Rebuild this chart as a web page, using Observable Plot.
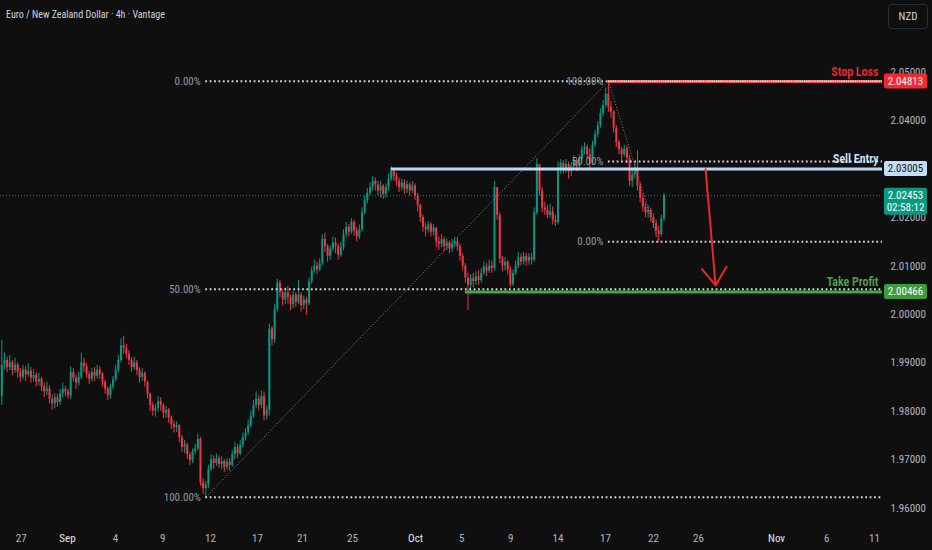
<!DOCTYPE html>
<html><head><meta charset="utf-8">
<script src="https://cdn.jsdelivr.net/npm/d3@7"></script>
<script src="https://cdn.jsdelivr.net/npm/@observablehq/plot@0.6"></script>
<style>
html,body{margin:0;padding:0;background:#0f0f0f;}
body{width:932px;height:550px;overflow:hidden;font-family:"Liberation Sans Narrow","Roboto Condensed","Liberation Sans",Roboto,sans-serif;}
#header{position:relative;height:30px;}
#title{position:absolute;left:6px;top:9px;font-size:10px;color:#d1d4dc;white-space:nowrap;}
#cur{position:absolute;left:888px;top:4px;width:38px;height:23px;border:1px solid #2a2e39;border-radius:4px;color:#d1d4dc;font-size:11px;line-height:23px;text-align:center;}
svg{display:block;}
</style></head>
<body>
<div id="header"><div id="title">Euro / New Zealand Dollar · 4h · Vantage</div><div id="cur">NZD</div></div>
<div id="chart"></div>
<script>
// ---------- DATA ----------
const firstOpen = 1.9830;
const closes = [
1.9895,1.9905,1.9890,1.9900,1.9884,1.9895,1.9880,1.9870,1.9885,1.9875,
1.9882,1.9868,1.9874,1.9860,1.9866,1.9850,1.9840,1.9846,1.9825,1.9815,
1.9828,1.9818,1.9836,1.9845,1.9840,1.9832,1.9880,1.9868,1.9858,1.9870,
1.9900,1.9892,1.9876,1.9866,1.9880,1.9872,1.9885,1.9876,1.9860,1.9845,
1.9832,1.9850,1.9865,1.9885,1.9905,1.9935,1.9930,1.9918,1.9905,1.9890,
1.9900,1.9884,1.9870,1.9878,1.9860,1.9835,1.9812,1.9800,1.9806,1.9820,
1.9812,1.9796,1.9802,1.9785,1.9772,1.9766,1.9770,1.9745,1.9725,1.9730,
1.9710,1.9698,1.9715,1.9722,1.9742,1.9652,1.9640,1.9648,1.9680,1.9700,
1.9692,1.9702,1.9690,1.9696,1.9684,1.9695,1.9688,1.9710,1.9725,1.9712,
1.9730,1.9745,1.9755,1.9770,1.9790,1.9812,1.9825,1.9812,1.9830,1.9790,
1.9802,1.9970,1.9948,2.0010,2.0065,2.0045,2.0030,2.0045,2.0035,2.0020,
2.0040,2.0025,2.0040,2.0018,2.0030,2.0022,2.0068,2.0090,2.0100,2.0092,
2.0105,2.0155,2.0140,2.0120,2.0135,2.0148,2.0140,2.0122,2.0138,2.0165,
2.0180,2.0170,2.0190,2.0172,2.0160,2.0175,2.0210,2.0235,2.0250,2.0262,
2.0275,2.0268,2.0255,2.0265,2.0248,2.0262,2.0280,2.0295,2.0285,2.0275,
2.0262,2.0272,2.0258,2.0268,2.0255,2.0265,2.0245,2.0225,2.0200,2.0180,
2.0175,2.0185,2.0170,2.0178,2.0150,2.0145,2.0155,2.0140,2.0148,2.0135,
2.0145,2.0150,2.0140,2.0120,2.0100,2.0075,2.0060,2.0075,2.0068,2.0078,
2.0070,2.0085,2.0098,2.0090,2.0100,2.0095,2.0262,2.0205,2.0115,2.0100,
2.0108,2.0092,2.0062,2.0085,2.0100,2.0118,2.0108,2.0120,2.0110,2.0118,
2.0112,2.0210,2.0310,2.0255,2.0220,2.0215,2.0205,2.0212,2.0195,2.0190,
2.0300,2.0312,2.0300,2.0310,2.0295,2.0305,2.0318,2.0305,2.0320,2.0340,
2.0345,2.0330,2.0312,2.0350,2.0372,2.0390,2.0415,2.0432,2.0455,2.0428,
2.0418,2.0385,2.0355,2.0340,2.0330,2.0342,2.0322,2.0275,2.0288,2.0300,
2.0265,2.0240,2.0222,2.0210,2.0215,2.0200,2.0188,2.0172,2.0165,2.0198,
2.02453];
const highs = [
1.9946,1.9920,1.9912,1.9915,1.9905,1.9910,1.9900,1.9888,1.9895,1.9892,
1.9898,1.9890,1.9886,1.9880,1.9878,1.9870,1.9858,1.9860,1.9852,1.9834,
1.9836,1.9835,1.9845,1.9858,1.9852,1.9846,1.9892,1.9888,1.9875,1.9880,
1.9920,1.9910,1.9898,1.9882,1.9888,1.9890,1.9895,1.9892,1.9880,1.9864,
1.9850,1.9856,1.9872,1.9895,1.9915,1.9950,1.9955,1.9938,1.9925,1.9910,
1.9912,1.9905,1.9890,1.9888,1.9882,1.9862,1.9838,1.9818,1.9815,1.9830,
1.9828,1.9816,1.9810,1.9806,1.9790,1.9780,1.9778,1.9772,1.9750,1.9740,
1.9734,1.9715,1.9722,1.9732,1.9752,1.9746,1.9660,1.9655,1.9688,1.9710,
1.9708,1.9712,1.9708,1.9706,1.9700,1.9702,1.9702,1.9718,1.9735,1.9732,
1.9740,1.9755,1.9764,1.9782,1.9800,1.9822,1.9840,1.9832,1.9842,1.9840,
1.9810,1.9980,1.9975,2.0020,2.0072,2.0070,2.0050,2.0055,2.0058,2.0040,
2.0048,2.0045,2.0070,2.0045,2.0038,2.0036,2.0075,2.0098,2.0112,2.0108,
2.0115,2.0165,2.0168,2.0145,2.0142,2.0160,2.0158,2.0145,2.0148,2.0175,
2.0190,2.0186,2.0198,2.0195,2.0180,2.0185,2.0220,2.0245,2.0260,2.0272,
2.0285,2.0282,2.0275,2.0275,2.0268,2.0270,2.0290,2.0306,2.0300,2.0292,
2.0282,2.0280,2.0278,2.0276,2.0272,2.0275,2.0270,2.0250,2.0228,2.0205,
2.0188,2.0192,2.0190,2.0186,2.0180,2.0160,2.0165,2.0160,2.0156,2.0152,
2.0155,2.0160,2.0158,2.0145,2.0125,2.0105,2.0085,2.0082,2.0085,2.0088,
2.0090,2.0095,2.0108,2.0105,2.0112,2.0110,2.0275,2.0260,2.0210,2.0120,
2.0118,2.0112,2.0098,2.0092,2.0110,2.0128,2.0125,2.0128,2.0126,2.0126,
2.0126,2.0220,2.0322,2.0305,2.0262,2.0232,2.0225,2.0228,2.0222,2.0205,
2.0315,2.0320,2.0318,2.0320,2.0315,2.0314,2.0328,2.0322,2.0330,2.0348,
2.0355,2.0350,2.0342,2.0358,2.0380,2.0398,2.0425,2.0442,2.0468,2.0482,
2.0440,2.0422,2.0390,2.0360,2.0345,2.0350,2.0348,2.0328,2.0298,2.0312,
2.0338,2.0272,2.0248,2.0230,2.0225,2.0220,2.0208,2.0195,2.0182,2.0205,
2.0250];
const lows = [
1.9812,1.9885,1.9880,1.9884,1.9874,1.9878,1.9868,1.9860,1.9865,1.9862,
1.9870,1.9858,1.9860,1.9850,1.9852,1.9840,1.9828,1.9832,1.9815,1.9802,
1.9805,1.9808,1.9812,1.9828,1.9830,1.9825,1.9825,1.9860,1.9845,1.9852,
1.9865,1.9880,1.9868,1.9855,1.9860,1.9862,1.9866,1.9866,1.9850,1.9835,
1.9822,1.9825,1.9844,1.9860,1.9880,1.9900,1.9918,1.9908,1.9895,1.9880,
1.9884,1.9874,1.9858,1.9862,1.9850,1.9825,1.9800,1.9790,1.9788,1.9798,
1.9800,1.9785,1.9786,1.9775,1.9762,1.9755,1.9756,1.9735,1.9715,1.9712,
1.9700,1.9688,1.9692,1.9710,1.9718,1.9645,1.9628,1.9622,1.9640,1.9675,
1.9680,1.9686,1.9682,1.9680,1.9674,1.9678,1.9676,1.9684,1.9700,1.9702,
1.9708,1.9724,1.9738,1.9750,1.9765,1.9785,1.9805,1.9800,1.9805,1.9780,
1.9782,1.9790,1.9935,1.9940,2.0005,2.0035,2.0018,2.0020,2.0022,2.0008,
2.0012,2.0015,2.0020,2.0005,2.0010,1.9998,2.0018,2.0062,2.0085,2.0082,
2.0088,2.0100,2.0128,2.0108,2.0112,2.0130,2.0125,2.0112,2.0118,2.0132,
2.0158,2.0160,2.0165,2.0162,2.0150,2.0155,2.0170,2.0205,2.0228,2.0245,
2.0255,2.0255,2.0245,2.0240,2.0238,2.0240,2.0255,2.0275,2.0275,2.0265,
2.0252,2.0255,2.0248,2.0250,2.0245,2.0250,2.0235,2.0212,2.0190,2.0170,
2.0160,2.0168,2.0160,2.0162,2.0138,2.0132,2.0138,2.0130,2.0132,2.0125,
2.0128,2.0138,2.0130,2.0110,2.0090,2.0065,2.0008,2.0040,2.0055,2.0060,
2.0060,2.0065,2.0080,2.0078,2.0085,2.0085,2.0090,2.0195,2.0105,2.0088,
2.0090,2.0082,2.0055,2.0058,2.0080,2.0095,2.0100,2.0102,2.0100,2.0102,
2.0102,2.0108,2.0205,2.0245,2.0210,2.0205,2.0198,2.0200,2.0185,2.0182,
2.0185,2.0290,2.0290,2.0292,2.0280,2.0285,2.0298,2.0295,2.0300,2.0315,
2.0330,2.0322,2.0300,2.0308,2.0345,2.0365,2.0385,2.0408,2.0425,2.0418,
2.0405,2.0375,2.0345,2.0330,2.0318,2.0325,2.0312,2.0265,2.0262,2.0280,
2.0255,2.0230,2.0212,2.0200,2.0198,2.0190,2.0178,2.0160,2.0150,2.0160,
2.0192];

// x-axis labels (positions in 4h-bar index units)
const dateTickPos  = [7.35, 24.8, 42.9, 60.7, 78.8, 96.5, 113.5, 132.4, 156.2, 173.6, 192.1, 210, 227.9, 246, 263, 292.5, 311.4, 329.5];
const dateTickText = ["27","Sep","4","9","12","17","21","25","Oct","5","9","14","17","22","26","Nov","6","11"];
// price axis labels (2.03000 is hidden behind the Sell Entry tag in the reference)
const priceTicks = [1.96, 1.97, 1.98, 1.99, 2.00, 2.01, 2.02, 2.04, 2.05];

// Fibonacci retracements: anchor bar indexes (start = 100%, end = 0%)
const fibNames   = ["fib1", "fib2"];
const fibFromIdx = [77, 229];
const fibToIdx   = [229, 248];
const fibFrom    = [1.9622, 2.0482];
const fibTo      = [2.0482, 2.0150];
const fibPcts    = [0, 0.5, 1];

// Trade levels
const levelNames  = ["Stop Loss", "Sell Entry", "Take Profit"];
const levelPrices = [2.04813, 2.03005, 2.00466];
const levelFromIdx = [229, 147, 175];

// Current price + countdown
const lastPrice = 2.02453;
const countdown = "02:58:12";

// Projection arrow (bar index, price)
const arrowFromIdx = 265.7, arrowFromPrice = 2.0300;
const arrowToIdx = 269.5, arrowToPrice = 2.0060;

// ---------- STYLE ----------
const FONT = `"Liberation Sans Narrow","Roboto Condensed","Liberation Sans",Roboto,sans-serif`;
const UP = "#089981", DOWN = "#f23645";
const levelStyle = {
  "Stop Loss":   {line: "#f2282f", text: "#f2282f", tagBg: "#f7262f", tagFg: "#ffffff"},
  "Sell Entry":  {line: "#bcd8f6", text: "#d6e4f5", tagBg: "#c3dcf7", tagFg: "#131722"},
  "Take Profit": {line: "#45a348", text: "#4fa34a", tagBg: "#3d9a3f", tagFg: "#ffffff"}
};

// ---------- BUILD ----------
const candles = closes.map((c, i) => {
  const o = i === 0 ? firstOpen : closes[i - 1];
  return {i, o, c, h: Math.max(highs[i], o, c), l: Math.min(lows[i], o, c), up: c >= o};
});
const xMax = 332.5;

const fibLines = [];
fibNames.forEach((n, k) => {
  fibPcts.forEach(p => {
    fibLines.push({
      idx: fibFromIdx[k],
      price: fibTo[k] + (fibFrom[k] - fibTo[k]) * p,
      label: (p * 100).toFixed(2) + "%"
    });
  });
});
const fibDiag = fibNames.map((n, k) => ({x1: fibFromIdx[k], y1: fibFrom[k], x2: fibToIdx[k], y2: fibTo[k]}));
const levels = levelNames.map((n, k) => ({name: n, price: levelPrices[k], idx: levelFromIdx[k], ...levelStyle[n]}));
const dateTicks = dateTickPos.map((p, k) => ({p, t: dateTickText[k], month: isNaN(+dateTickText[k])}));

const tags = [
  ...levels.map(l => ({price: l.price, lines: [l.price.toFixed(5)], bg: l.tagBg, fg: l.tagFg})),
  {price: lastPrice, lines: [lastPrice.toFixed(5), countdown], bg: "#089981", fg: "#ffffff"}
];

const tagMark = (index, scales, values, dimensions) => {
  const g = d3.create("svg:g").attr("font-size", 11).attr("font-family", FONT);
  const left = dimensions.width - dimensions.marginRight + 2;
  const w = 43;
  for (const t of tags) {
    const yc = scales.y(t.price);
    const h = 15 + (t.lines.length - 1) * 12;
    g.append("rect").attr("x", left).attr("y", yc - 7.5).attr("width", w).attr("height", h)
      .attr("rx", 2).attr("fill", t.bg);
    t.lines.forEach((s, k) => g.append("text").attr("x", left + w / 2).attr("y", yc + k * 12)
      .attr("dy", "0.35em").attr("text-anchor", "middle").attr("fill", t.fg).text(s));
  }
  return g.node();
};

const chart = Plot.plot({
  width: 932, height: 520,
  marginLeft: 0, marginRight: 50, marginTop: 0, marginBottom: 20,
  style: {background: "#0f0f0f", color: "#b2b5be", fontFamily: FONT, fontSize: "11px"},
  x: {type: "linear", domain: [-0.5, xMax], axis: null},
  y: {type: "linear", domain: [1.96, 2.05], range: [477.5, 42]},
  color: {type: "identity"},
  marks: [
    Plot.axisY(priceTicks, {anchor: "right", tickSize: 0, tickPadding: 8, tickFormat: d => d.toFixed(5), fill: "#b2b5be", fontSize: 11, label: null}),
    Plot.ruleY([lastPrice], {stroke: UP, strokeDasharray: "1,2", strokeWidth: 1, strokeOpacity: 0.9}),
    // candles
    Plot.ruleX(candles, {x: "i", y1: "l", y2: "h", stroke: d => d.up ? UP : DOWN, strokeWidth: 1}),
    Plot.ruleX(candles, {x: "i", y1: "o", y2: "c", stroke: d => d.up ? UP : DOWN, strokeWidth: 2}),
    // fib diagonals
    Plot.link(fibDiag, {x1: "x1", y1: "y1", x2: "x2", y2: "y2", stroke: "#8a8d96", strokeWidth: 1, strokeDasharray: "1,2"}),
    // trade levels
    Plot.ruleY(levels, {y: "price", x1: "idx", x2: xMax, stroke: "line", strokeWidth: 3}),
    // fib levels
    Plot.ruleY(fibLines, {y: "price", x1: "idx", x2: xMax, stroke: "#d1d4dc", strokeWidth: 2, strokeDasharray: "1.8,2.6"}),
    Plot.text(fibLines, {x: "idx", y: "price", text: "label", textAnchor: "end", dx: -5, fill: "#9598a1", fontSize: 11}),
    // level labels
    Plot.text(levels, {y: "price", frameAnchor: "right", text: "name", textAnchor: "end", dx: -4, dy: -9.5, fill: "text", fontSize: 12, fontWeight: 600}),
    // arrow
    Plot.arrow([{x1: arrowFromIdx, y1: arrowFromPrice, x2: arrowToIdx, y2: arrowToPrice}], {x1: "x1", y1: "y1", x2: "x2", y2: "y2", stroke: "#f0262a", strokeWidth: 2, headLength: 16, headAngle: 70}),
    // date axis
    Plot.text(dateTicks, {x: "p", frameAnchor: "bottom", text: "t", dy: 11, fill: d => d.month ? "#e6e8ee" : "#b2b5be", fontWeight: d => d.month ? 700 : 400, fontSize: 11}),
    tagMark
  ]
});
document.getElementById("chart").appendChild(chart);
</script>
</body></html>
